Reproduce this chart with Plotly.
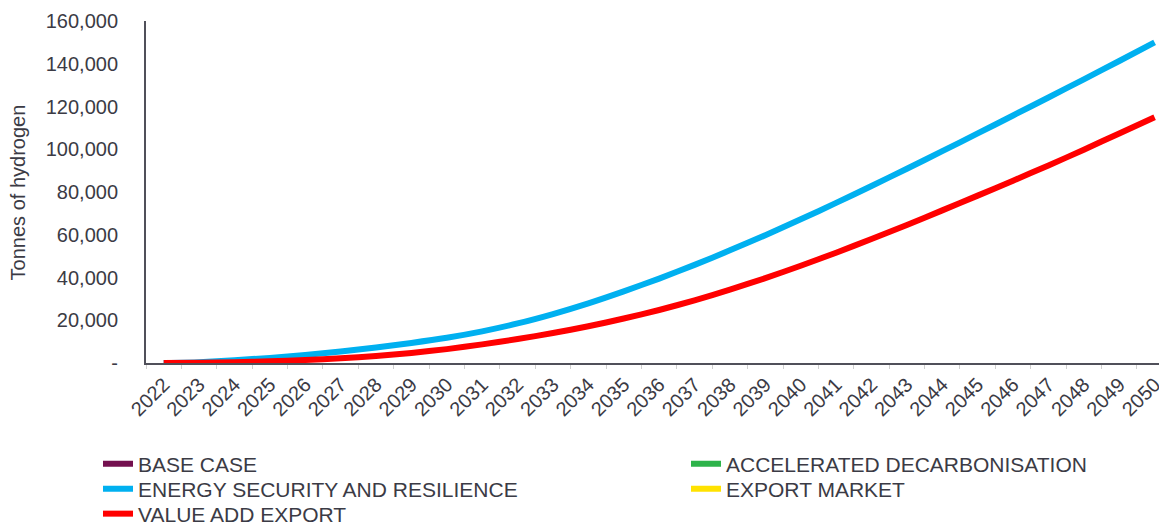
import plotly.graph_objects as go

years = [str(y) for y in range(2022, 2051)]

base_case = [None] * len(years)
accelerated = [None] * len(years)
export_market = [None] * len(years)
energy_security = [0, 400, 1300, 2400, 3700, 5400, 7300, 9400, 11800, 14800,
                   18500, 22900, 27900, 33500, 39500, 45900, 52700, 59800, 67200,
                   74900, 82800, 90900, 99100, 107400, 115800, 124200, 132700,
                   141300, 150000]
value_add = [0, 100, 400, 800, 1400, 2200, 3300, 4700, 6500, 8700, 11200, 14000,
             17200, 20800, 24800, 29300, 34300, 39700, 45500, 51600, 58000, 64600,
             71400, 78300, 85300, 92400, 99800, 107400, 115000]

y_ticks = [0, 20000, 40000, 60000, 80000, 100000, 120000, 140000, 160000]
y_labels = ["-", "20,000", "40,000", "60,000", "80,000", "100,000", "120,000",
            "140,000", "160,000"]

series = [
    ("BASE CASE", base_case, "#74104F"),
    ("ACCELERATED DECARBONISATION", accelerated, "#2DB34A"),
    ("ENERGY SECURITY AND RESILIENCE", energy_security, "#00B0F0"),
    ("EXPORT MARKET", export_market, "#FFE200"),
    ("VALUE ADD EXPORT", value_add, "#FF0000"),
]

# the page has an 8px body margin, so the figure is sized to fit the window
W, H = 1159, 514
slots = [("legend", 90, 456), ("legend2", 678, 456), ("legend3", 90, 481),
         ("legend4", 678, 481), ("legend5", 90, 506)]

font_color = "#3B3B45"
fig = go.Figure()
legends = {}
for (name, vals, color), (lid, lx, ly) in zip(series, slots):
    fig.add_trace(go.Scatter(x=years, y=vals, name=name, mode="lines",
                             line=dict(color=color, width=6, shape="spline",
                                       smoothing=0.6),
                             showlegend=True, legend=lid))
    legends[lid] = dict(xref="container", yref="container", x=lx / W,
                        y=1 - ly / H, xanchor="left", yanchor="middle",
                        bgcolor="rgba(0,0,0,0)",
                        font=dict(size=21, color=font_color), itemwidth=30)

fig.update_layout(
    width=W, height=H,
    margin=dict(l=138, r=0, t=13, b=159, autoexpand=False),
    paper_bgcolor="white", plot_bgcolor="white",
    font=dict(family="Liberation Sans, Arial, sans-serif", size=20, color=font_color),
    showlegend=True,
    **legends,
)
fig.add_annotation(text="Tonnes of hydrogen", xref="paper", yref="paper",
                   x=-0.125, y=0.5, textangle=-90, showarrow=False,
                   xanchor="center", yanchor="middle",
                   font=dict(size=20, color=font_color))
fig.update_xaxes(type="category", range=[-0.5, 28.35], showline=True,
                 linecolor="#50505A", linewidth=2, showgrid=False,
                 tickangle=-45, tickson="boundaries", ticks="outside",
                 ticklen=4, tickcolor="#D0D0D0", tickfont=dict(size=20),
                 zeroline=False, dtick=1)
fig.update_yaxes(range=[0, 160000], tickvals=y_ticks, ticktext=y_labels,
                 showline=True, linecolor="#50505A", linewidth=2, showgrid=False,
                 zeroline=False, ticks="", ticklabelstandoff=22,
                 tickfont=dict(size=20))

fig.write_html("out.html")
